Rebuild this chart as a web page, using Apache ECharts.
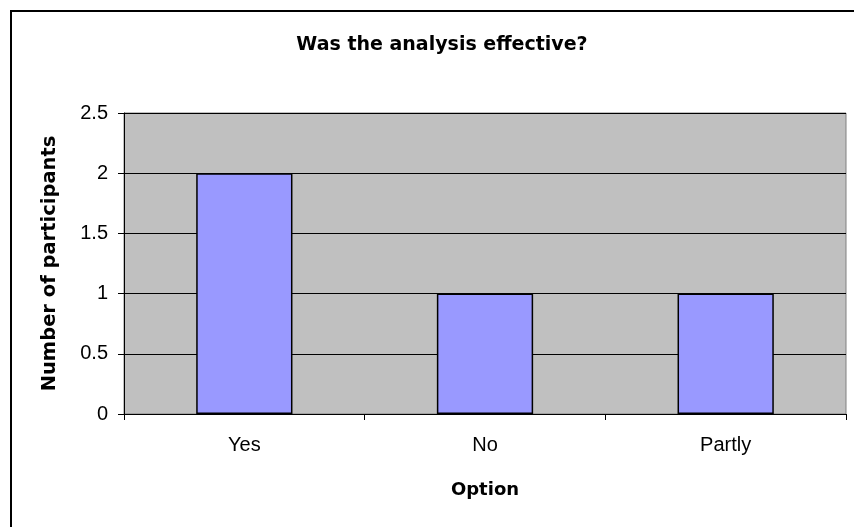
<!DOCTYPE html>
<html>
<head>
<meta charset="utf-8">
<script src="https://cdn.jsdelivr.net/npm/echarts@6/dist/echarts.min.js"></script>
<style>
  html, body { margin: 0; padding: 0; background: #fff; }
  #chart { width: 854px; height: 527px; }
</style>
</head>
<body>
<div id="chart"></div>
<script>
// Survey answers to "Was the analysis effective?"
const categories = ['Yes', 'No', 'Partly'];
const participants = [2, 1, 1];
const yTicks = [0, 0.5, 1, 1.5, 2, 2.5];

const chart = echarts.init(document.getElementById('chart'), null, { renderer: 'canvas' });

const font = '"Liberation Sans", Arial, sans-serif';
const boldFont = '"DejaVu Sans", "Liberation Sans", Arial, sans-serif';

chart.setOption({
  backgroundColor: '#ffffff',
  animation: false,
  textStyle: { fontFamily: font },
  graphic: [{
    type: 'rect',
    shape: { x: 11, y: 11, width: 900, height: 600 },
    style: { fill: 'none', stroke: '#000', lineWidth: 2 },
    silent: true,
    z: 100
  }],
  title: {
    text: 'Was the analysis effective?',
    left: 437,
    textAlign: 'center',
    top: 31,
    textStyle: { fontFamily: boldFont, fontSize: 19, fontWeight: 'bold', color: '#000' }
  },
  grid: {
    left: 124, right: 8, top: 113, bottom: 113,
    show: true,
    backgroundColor: '#C0C0C0',
    borderColor: '#808080',
    borderWidth: 1
  },
  xAxis: {
    type: 'category',
    data: categories,
    name: 'Option',
    nameLocation: 'middle',
    nameGap: 67,
    nameTextStyle: { fontFamily: boldFont, fontSize: 18, fontWeight: 'bold', color: '#000' },
    axisLine: { lineStyle: { color: '#000', width: 1 } },
    axisTick: { show: true, alignWithLabel: false, length: 6, lineStyle: { color: '#000' } },
    axisLabel: { fontFamily: font, fontSize: 20, color: '#000', margin: 21 },
    splitLine: { show: false }
  },
  yAxis: {
    type: 'value',
    min: yTicks[0],
    max: yTicks[yTicks.length - 1],
    interval: 0.5,
    name: 'Number of participants',
    nameLocation: 'middle',
    nameGap: 64,
    nameTextStyle: { fontFamily: boldFont, fontSize: 19.5, fontWeight: 'bold', color: '#000' },
    axisLine: { show: true, lineStyle: { color: '#000', width: 1 } },
    axisTick: { show: true, length: 6, lineStyle: { color: '#000' } },
    axisLabel: { fontFamily: font, fontSize: 20, color: '#000', margin: 16 },
    splitLine: { show: true, lineStyle: { color: '#000', width: 1 } }
  },
  series: [{
    type: 'bar',
    data: participants,
    barCategoryGap: '60%',
    itemStyle: { color: '#9999FF', borderColor: '#000', borderWidth: 1.5 }
  }]
});
</script>
</body>
</html>
